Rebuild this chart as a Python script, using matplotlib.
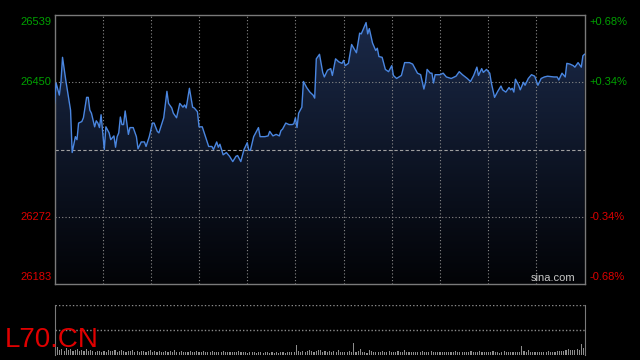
import numpy as np
import matplotlib
matplotlib.use("Agg")
import matplotlib.pyplot as plt

# intraday minutes (0..330) and index level
minutes = [0, 1, 3, 4, 5, 7, 10, 11, 13, 14, 15, 17, 18, 20, 21, 22, 23, 25, 26, 27,
           28, 29, 31, 32, 34, 35, 37, 38, 39, 40, 41, 42, 43, 44, 46, 47, 49, 51, 52, 54,
           56, 57, 59, 61, 62, 64, 65, 68, 70, 71, 73, 74, 76, 78, 80, 81, 82, 83, 84, 86,
           87, 89, 90, 92, 94, 96, 98, 99, 101, 102, 103, 105, 107, 109, 111, 113, 114, 116, 118, 120,
           121, 122, 124, 125, 127, 128, 131, 133, 134, 136, 138, 140, 141, 142, 144, 146, 148, 149, 150, 151,
           152, 154, 155, 157, 159, 161, 162, 163, 165, 167, 168, 170, 172, 173, 175, 177, 179, 180, 181, 183,
           185, 188, 190, 191, 192, 194, 195, 196, 198, 200, 201, 202, 204, 206, 208, 210, 211, 213, 216, 218,
           221, 223, 226, 228, 230, 231, 232, 234, 235, 236, 237, 240, 242, 244, 247, 249, 250, 252, 254, 257,
           259, 261, 263, 264, 266, 267, 269, 271, 272, 274, 276, 278, 279, 281, 283, 284, 285, 286, 287, 289,
           290, 292, 293, 295, 297, 299, 301, 303, 305, 307, 311, 313, 314, 316, 318, 319, 321, 323, 324, 326,
           328, 329, 330]
prices = [26422, 26449, 26433, 26450, 26483, 26453, 26413, 26357, 26378, 26374, 26396, 26398, 26403, 26430, 26430, 26413, 26409, 26391, 26399, 26396,
          26390, 26407, 26361, 26391, 26383, 26374, 26379, 26364, 26378, 26383, 26404, 26394, 26394, 26412, 26381, 26390, 26390, 26378, 26362, 26371,
          26371, 26365, 26378, 26396, 26396, 26385, 26383, 26403, 26438, 26422, 26416, 26409, 26403, 26422, 26417, 26420, 26416, 26429, 26442, 26417,
          26416, 26411, 26391, 26391, 26378, 26365, 26365, 26361, 26371, 26364, 26368, 26354, 26357, 26352, 26345, 26352, 26353, 26345, 26361, 26370,
          26360, 26360, 26378, 26382, 26390, 26378, 26378, 26379, 26385, 26379, 26381, 26379, 26386, 26388, 26396, 26394, 26394, 26395, 26403, 26390,
          26409, 26417, 26451, 26443, 26437, 26433, 26429, 26481, 26487, 26463, 26457, 26466, 26468, 26459, 26481, 26477, 26475, 26479, 26472, 26475,
          26500, 26489, 26515, 26514, 26519, 26529, 26514, 26521, 26502, 26492, 26495, 26484, 26483, 26467, 26464, 26472, 26459, 26455, 26459, 26476,
          26476, 26474, 26462, 26460, 26441, 26450, 26467, 26462, 26462, 26449, 26460, 26460, 26462, 26457, 26455, 26457, 26458, 26464, 26460, 26455,
          26451, 26459, 26470, 26459, 26468, 26463, 26467, 26462, 26449, 26430, 26438, 26445, 26440, 26437, 26443, 26440, 26442, 26437, 26454, 26446,
          26440, 26450, 26446, 26455, 26460, 26458, 26446, 26455, 26457, 26458, 26457, 26457, 26453, 26462, 26457, 26475, 26474, 26472, 26470, 26476,
          26470, 26485, 26487]

volume = [31, 8, 5, 6, 4, 7, 5, 6, 4, 5, 6, 4, 5, 4, 6, 4, 5, 4, 3, 4,
          4, 3, 4, 3, 5, 4, 4, 5, 3, 4, 5, 4, 3, 4, 4, 5, 3, 4, 3, 4,
          4, 3, 4, 5, 3, 4, 3, 4, 3, 3, 4, 3, 4, 3, 5, 3, 3, 4, 3, 3,
          3, 4, 3, 3, 4, 3, 3, 4, 3, 3, 3, 4, 3, 3, 3, 3, 4, 3, 3, 3,
          3, 3, 3, 4, 3, 3, 3, 2, 3, 3, 3, 2, 3, 3, 2, 3, 3, 2, 3, 2,
          3, 2, 3, 3, 2, 3, 3, 3, 3, 10, 4, 3, 4, 3, 4, 5, 4, 3, 4, 5,
          5, 3, 4, 3, 4, 3, 4, 3, 5, 3, 3, 3, 3, 4, 3, 12, 3, 4, 6, 3,
          3, 2, 5, 4, 3, 3, 3, 3, 4, 3, 3, 4, 3, 3, 3, 4, 3, 3, 5, 3,
          3, 3, 3, 3, 3, 3, 4, 3, 3, 3, 4, 3, 3, 3, 3, 3, 3, 3, 3, 3,
          3, 4, 3, 3, 3, 3, 3, 3, 4, 3, 3, 3, 4, 3, 3, 3, 3, 3, 4, 3,
          3, 2, 3, 4, 3, 3, 3, 3, 3, 3, 3, 9, 4, 3, 5, 3, 3, 3, 3, 3,
          3, 3, 3, 4, 3, 3, 3, 4, 4, 4, 4, 5, 6, 5, 5, 5, 6, 5, 11, 7]

prev_close = 26361
price_ticks = [26539, 26450, 26272, 26183]
symbol = "L70.CN"

GRID = "#8a8a8a"
GREEN = "#00a000"
RED = "#dd0000"

fig = plt.figure(figsize=(6.4, 3.6), dpi=100, facecolor="black")
ax = fig.add_axes([54.5 / 640, 1 - 284 / 360, 530 / 640, 269 / 360])
axv = fig.add_axes([54.5 / 640, 1 - 355 / 360, 530 / 640, 50 / 360])

ax.set_facecolor("black")
ax.set_xlim(0, 330)
ax.set_ylim(price_ticks[-1], price_ticks[0])

# gradient under the line
fill = ax.fill_between(minutes, prices, price_ticks[-1], color="none", lw=0)
grad = np.linspace(0, 1, 256).reshape(-1, 1)
cmap = matplotlib.colors.LinearSegmentedColormap.from_list("g", ["#020306", "#1b2a4a"])
img = ax.imshow(grad, extent=[0, 330, price_ticks[-1], price_ticks[0]], origin="lower",
                aspect="auto", cmap=cmap, zorder=1)
img.set_clip_path(fill.get_paths()[0], transform=ax.transData)

for v in [26450, 26272]:
    ax.axhline(v, color=GRID, lw=0.8, ls=(0, (1, 2)), zorder=2)
ax.axhline(prev_close, color="#a0a0a0", lw=0.8, ls=(0, (3, 2)), zorder=2)
for t in range(30, 330, 30):
    ax.axvline(t, color=GRID, lw=0.8, ls=(0, (1, 2)), zorder=2)

ax.plot(minutes, prices, color="#4a86e0", lw=1.0, zorder=3)

ax.set_xticks([])
ax.set_yticks([])
for s in ax.spines.values():
    s.set_color("#7a7a7a")
    s.set_linewidth(1)

# axis labels on both sides
fnt = dict(family="Liberation Sans", fontsize=8)
for v in price_ticks:
    col = GREEN if v > prev_close else RED
    pct = (v - prev_close) / prev_close * 100
    if v == price_ticks[0]:
        va, off = "top", -2
    elif v == price_ticks[-1]:
        va, off = "bottom", 2
    else:
        va, off = "center", 0
    ax.annotate(str(v), (0, v), xycoords=("axes fraction", "data"), xytext=(-3, off),
                textcoords="offset pixels", ha="right", va=va, color=col, **fnt)
    ax.annotate("%+.2f%%" % pct, (1, v), xycoords=("axes fraction", "data"), xytext=(5, off),
                textcoords="offset pixels", ha="left", va=va, color=col, **fnt)

ax.text(0.983, 0.005, "sina.com", transform=ax.transAxes, ha="right", va="bottom",
        color="#c8c8c8", family="Liberation Sans", fontsize=8, zorder=4)

# volume panel
axv.set_facecolor("black")
vx = np.linspace(0.5, 329.5, len(volume))
axv.bar(vx, volume, width=0.7, color="#8c8c8c", lw=0)
axv.set_xlim(0, 330)
axv.set_ylim(0, 50)
axv.axhline(50, color=GRID, lw=1, ls=(0, (1, 1.5)))
axv.axhline(25, color=GRID, lw=1, ls=(0, (1, 1.5)))
axv.set_xticks([])
axv.set_yticks([])
for k in ["top", "bottom"]:
    axv.spines[k].set_visible(False)
for k in ["left", "right"]:
    axv.spines[k].set_color("#7a7a7a")

fig.text(5 / 640, 1 - 340 / 360, symbol, color="#e00000", family="Liberation Sans",
         fontsize=20, ha="left", va="center")

fig.savefig("out.png", dpi=100, facecolor="black")
